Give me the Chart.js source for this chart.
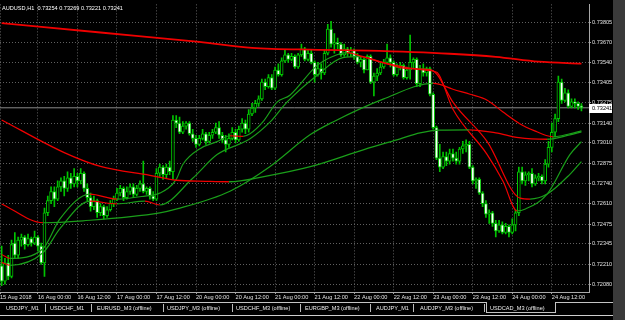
<!DOCTYPE html>
<html><head><meta charset="utf-8">
<script src="https://cdn.jsdelivr.net/npm/chart.js@4/dist/chart.umd.min.js"></script>
<style>
html,body{margin:0;padding:0;background:#000;width:625px;height:320px;overflow:hidden;}
#c{position:absolute;left:0;top:0;}
#strip{position:absolute;left:613px;top:0;width:12px;height:320px;background:#3a3a3a;}
</style></head>
<body>
<canvas id="c" width="613" height="320" style="width:613px;height:320px"></canvas>
<div id="strip"></div>
<script>
// ---------- data ----------
const SYMBOL_TITLE = "AUDUSD,H1  0.73254 0.73269 0.73221 0.73241";
const TAB_NAMES = ["USDJPY_M1","USDCHF_M1","EURUSD_M3 (offline)","USDJPY_M3 (offline)","USDCHF_M3 (offline)","EURGBP_M3 (offline)","AUDJPY_M1","AUDJPY_M3 (offline)","USDCAD_M3 (offline)"];
const Y_TICKS = [0.73805,0.73670,0.73540,0.73405,0.73275,0.73140,0.73010,0.72875,0.72740,0.72610,0.72475,0.72345,0.72210,0.72080];
const X_TICK_POS = [-0.5,11,23,35,47,59,71,83,95,107,119,131,143,155,167];
const X_TICK_LABELS = ["15 Aug 2018","16 Aug 00:00","16 Aug 12:00","17 Aug 00:00","17 Aug 12:00","20 Aug 00:00","20 Aug 12:00","21 Aug 00:00","21 Aug 12:00","22 Aug 00:00","22 Aug 12:00","23 Aug 00:00","23 Aug 12:00","24 Aug 00:00","24 Aug 12:00"];
const LAST_PRICE = 0.73241;

const OPEN = [0.7220,0.7210,0.7222,0.7213,0.7235,0.7227,0.7237,0.7239,0.7234,0.7238,
0.7235,0.7239,0.7233,0.7222,0.7255,0.7263,0.7269,0.7264,0.7272,0.7276,
0.7271,0.7278,0.7274,0.7279,0.7276,0.7281,0.7271,0.7265,0.7259,0.7263,
0.7255,0.7259,0.7253,0.7257,0.7261,0.7264,0.7268,0.7271,0.7265,0.7269,
0.7272,0.7267,0.7271,0.7274,0.7269,0.7271,0.7266,0.7264,0.7281,0.7285,
0.7280,0.7285,0.7282,0.7316,0.7314,0.7308,0.7312,0.7314,0.7307,0.7304,
0.7300,0.7304,0.7307,0.7302,0.7306,0.7308,0.7311,0.7306,0.7303,0.7300,
0.7304,0.7308,0.7303,0.7310,0.7314,0.7310,0.7320,0.7324,0.7327,0.7330,
0.7341,0.7338,0.7344,0.7337,0.7349,0.7346,0.7355,0.7359,0.7356,0.7358,
0.7351,0.7359,0.7363,0.7356,0.7360,0.7354,0.7346,0.7350,0.7347,0.7360,
0.7376,0.7366,0.7367,0.7366,0.7359,0.7363,0.7360,0.7362,0.7358,0.7354,
0.7356,0.7349,0.7358,0.7341,0.7345,0.7347,0.7351,0.7354,0.7357,0.7354,
0.7346,0.7351,0.7352,0.7344,0.7349,0.7354,0.7356,0.7340,0.7350,0.7347,
0.7350,0.7333,0.7311,0.7291,0.7285,0.7292,0.7289,0.7294,0.7291,0.7289,
0.7297,0.7299,0.7300,0.7285,0.7276,0.7277,0.7268,0.7261,0.7254,0.7255,
0.7248,0.7243,0.7247,0.7242,0.7246,0.7242,0.7247,0.7255,0.7282,0.7276,
0.7280,0.7281,0.7274,0.7278,0.7279,0.7276,0.7287,0.7298,0.7308,0.7317,
0.7341,0.7329,0.7334,0.7325,0.7328,0.7327,0.73254];
const HIGH = [0.7233,0.7225,0.7227,0.7237,0.7242,0.7239,0.7241,0.7240,0.7241,0.7239,
0.7243,0.7240,0.7235,0.7258,0.7266,0.7272,0.7272,0.7276,0.7278,0.7279,
0.7282,0.7281,0.7284,0.7281,0.7284,0.7282,0.7274,0.7268,0.7266,0.7264,
0.7261,0.7260,0.7259,0.7263,0.7266,0.7271,0.7273,0.7272,0.7272,0.7274,
0.7274,0.7273,0.7276,0.7289,0.7272,0.7272,0.7269,0.7284,0.7287,0.7286,
0.7287,0.7289,0.7319,0.7319,0.7318,0.7315,0.7315,0.7315,0.7310,0.7306,
0.7306,0.7310,0.7308,0.7308,0.7310,0.7314,0.7315,0.7308,0.7306,0.7307,
0.7311,0.7310,0.7312,0.7317,0.7316,0.7323,0.7327,0.7329,0.7332,0.7343,
0.7343,0.7346,0.7346,0.7351,0.7353,0.7357,0.7362,0.7360,0.7360,0.7359,
0.7360,0.7366,0.7364,0.7362,0.7362,0.7355,0.7354,0.7353,0.7362,0.7379,
0.7381,0.7373,0.7370,0.7367,0.7366,0.7364,0.7364,0.7363,0.7360,0.7358,
0.7357,0.7359,0.7359,0.7347,0.7350,0.7354,0.7356,0.7366,0.7359,0.7355,
0.7353,0.7354,0.7353,0.7351,0.7372,0.7357,0.7357,0.7352,0.7353,0.7351,
0.7351,0.7334,0.7312,0.7300,0.7295,0.7295,0.7297,0.7297,0.7295,0.7298,
0.7302,0.7303,0.7302,0.7286,0.7278,0.7278,0.7269,0.7263,0.7257,0.7256,
0.7250,0.7250,0.7249,0.7248,0.7247,0.7251,0.7257,0.7285,0.7285,0.7282,
0.7282,0.7284,0.7280,0.7281,0.7280,0.7290,0.7302,0.7314,0.7320,0.7345,
0.7343,0.7337,0.7336,0.7330,0.7330,0.7328,0.73269];
const LOW = [0.7207,0.7208,0.7211,0.7212,0.7225,0.7225,0.7233,0.7231,0.7233,0.7233,
0.7234,0.7230,0.7221,0.7213,0.7253,0.7261,0.7259,0.7263,0.7269,0.7266,
0.7269,0.7271,0.7272,0.7272,0.7274,0.7269,0.7263,0.7256,0.7257,0.7252,
0.7253,0.7251,0.7252,0.7256,0.7259,0.7263,0.7266,0.7263,0.7264,0.7267,
0.7265,0.7266,0.7269,0.7268,0.7267,0.7264,0.7263,0.7263,0.7279,0.7277,
0.7278,0.7280,0.7277,0.7311,0.7307,0.7307,0.7310,0.7306,0.7302,0.7298,
0.7299,0.7303,0.7300,0.7301,0.7304,0.7307,0.7304,0.7301,0.7295,0.7298,
0.7303,0.7301,0.7302,0.7308,0.7307,0.7308,0.7319,0.7321,0.7325,0.7329,
0.7336,0.7337,0.7336,0.7336,0.7345,0.7345,0.7354,0.7354,0.7355,0.7350,
0.7350,0.7358,0.7355,0.7355,0.7353,0.7341,0.7345,0.7343,0.7346,0.7359,
0.7364,0.7360,0.7363,0.7358,0.7358,0.7358,0.7358,0.7356,0.7353,0.7351,
0.7347,0.7349,0.7340,0.7332,0.7342,0.7346,0.7350,0.7353,0.7351,0.7345,
0.7345,0.7349,0.7343,0.7343,0.7343,0.7350,0.7338,0.7338,0.7345,0.7345,
0.7332,0.7310,0.7290,0.7282,0.7284,0.7286,0.7287,0.7289,0.7287,0.7287,
0.7294,0.7295,0.7284,0.7274,0.7271,0.7267,0.7259,0.7252,0.7248,0.7246,
0.7239,0.7242,0.7241,0.7241,0.7239,0.7241,0.7243,0.7253,0.7274,0.7273,
0.7276,0.7272,0.7273,0.7276,0.7274,0.7274,0.7285,0.7295,0.7305,0.7315,
0.7327,0.7328,0.7324,0.7324,0.7324,0.7323,0.73221];
const CLOSE = [0.7210,0.7222,0.7213,0.7234,0.7227,0.7237,0.7239,0.7234,0.7238,0.7235,
0.7239,0.7233,0.7222,0.7255,0.7263,0.7269,0.7264,0.7272,0.7276,0.7271,
0.7278,0.7274,0.7279,0.7276,0.7281,0.7271,0.7265,0.7259,0.7263,0.7255,
0.7259,0.7253,0.7257,0.7261,0.7264,0.7268,0.7271,0.7265,0.7269,0.7272,
0.7267,0.7271,0.7274,0.7269,0.7271,0.7266,0.7264,0.7281,0.7285,0.7280,
0.7285,0.7282,0.7316,0.7314,0.7308,0.7312,0.7314,0.7307,0.7304,0.7300,
0.7304,0.7307,0.7302,0.7306,0.7308,0.7311,0.7306,0.7303,0.7300,0.7304,
0.7308,0.7303,0.7310,0.7314,0.7310,0.7320,0.7324,0.7327,0.7330,0.7341,
0.7338,0.7344,0.7337,0.7349,0.7346,0.7355,0.7359,0.7356,0.7358,0.7351,
0.7359,0.7363,0.7356,0.7360,0.7354,0.7346,0.7350,0.7347,0.7360,0.7376,
0.7366,0.7367,0.7366,0.7359,0.7363,0.7360,0.7362,0.7358,0.7354,0.7356,
0.7349,0.7358,0.7341,0.7345,0.7347,0.7351,0.7354,0.7357,0.7354,0.7346,
0.7351,0.7352,0.7344,0.7349,0.7354,0.7356,0.7340,0.7350,0.7347,0.7350,
0.7333,0.7311,0.7291,0.7285,0.7292,0.7289,0.7294,0.7291,0.7289,0.7297,
0.7299,0.7300,0.7285,0.7276,0.7277,0.7268,0.7261,0.7254,0.7255,0.7248,
0.7243,0.7247,0.7242,0.7246,0.7242,0.7247,0.7255,0.7282,0.7276,0.7280,
0.7281,0.7274,0.7278,0.7279,0.7276,0.7287,0.7298,0.7308,0.7317,0.7341,
0.7329,0.7334,0.7325,0.7328,0.7327,0.7325,0.73241];

// moving averages, read at sampled bar positions
const MA_A_X = [0,30,60,76,96,111,136,150,163,176];
const MA_A_Y = [0.73799,0.73737,0.73675,0.73636,0.73623,0.73617,0.73597,0.73577,0.73545,0.73532];
const MA_B_X = [0,19,30,45,53,62,69,80,94,110,121,127,133,142,150,157,165.6,172.5,176];
const MA_B_Y = [0.73161,0.72946,0.72855,0.72796,0.72764,0.72757,0.72754,0.72790,0.72855,0.72966,0.73037,0.73076,0.73094,0.73096,0.73076,0.73044,0.73034,0.73063,0.73083];
const MA_C_X = [0,12.6,24.7,48,53.2,69.3,81.5,93.6,100.6,115.8,131,133,137,142.2,147.4,152.2,157.4,162.5,165.6,167.4,172.5,176];
const MA_C_Y = [0.72608,0.72484,0.72497,0.72549,0.72575,0.72692,0.72855,0.73063,0.73148,0.73298,0.73402,0.73395,0.73363,0.73330,0.73291,0.73213,0.73135,0.73083,0.73057,0.73050,0.73070,0.73089];
const MA_D_X = [0,2.5,12.6,17.7,26.8,35,43.5,48,53,55,60.2,65.4,69.3,73.3,75.4,79.3,83.6,87.5,95.7,101.8,104.8,108.8,115.8,123,130,132.2,137,147.4,152.2,156.5,159,165.6,172.5,176];
const MA_D_Y = [0.72275,0.72249,0.72315,0.72510,0.72673,0.72640,0.72660,0.72679,0.72770,0.72868,0.72972,0.73018,0.73057,0.73053,0.73070,0.73148,0.73278,0.73324,0.73519,0.73590,0.73604,0.73584,0.73538,0.73506,0.73486,0.73473,0.73232,0.72933,0.72757,0.72562,0.72575,0.72673,0.72933,0.73018];
const MA_E_X = [0,2.5,12.6,17.7,26.8,35,43.5,48,58,65.4,75.4,81.5,86.6,95.7,103.6,108.8,115.8,123,130,132.2,137,147.4,157.4,160.4,165.6,172.5,176];
const MA_E_Y = [0.72223,0.72204,0.72288,0.72445,0.72627,0.72608,0.72627,0.72601,0.72777,0.72933,0.73037,0.73148,0.73278,0.73454,0.73571,0.73578,0.73538,0.73499,0.73493,0.73460,0.73278,0.73018,0.72646,0.72640,0.72673,0.72803,0.72887];

// ---------- styles ----------
const CANDLE_GREEN = '#00c400';
const LINE_GREEN = '#1a9e1a';
const LINE_RED = '#f00000';
const FONT_FAMILY = '"Liberation Sans", Arial, sans-serif';
const FONT = {family: FONT_FAMILY, size: 5.6};

// ---------- build ----------
const idx = OPEN.map((_, i) => i);
const wicks = idx.map(i => ({x: i, y: [LOW[i], HIGH[i]]}));
const bodies = idx.map(i => ({x: i, y: [OPEN[i], CLOSE[i]]}));
const bodyFill = idx.map(i => CLOSE[i] >= OPEN[i] ? '#000000' : '#ffffff');
const pts = (xs, ys) => xs.map((x, i) => ({x, y: ys[i]}));
const seg = {borderColor: c => (c.p1.parsed.y >= c.p0.parsed.y ? LINE_GREEN : LINE_RED)};
function maDs(xs, ys, w) {
  return {type: 'line', data: pts(xs, ys), borderColor: LINE_GREEN, borderWidth: w, pointRadius: 0,
    cubicInterpolationMode: 'monotone', segment: seg, order: 0};
}
const X_MIN = -0.5, X_MAX = 178.3;
const TAB_LEFT = [6, 50, 97, 167, 236, 305, 376, 420, 490];
const SEP_LEFT = [45, 91, 163, 232, 300, 370, 413, 484];

const overlay = {
  id: 'overlay',
  afterDatasetsDraw(chart) {
    const ctx = chart.ctx, ys = chart.scales.y, area = chart.chartArea;
    const py = Math.round(ys.getPixelForValue(LAST_PRICE));
    ctx.save();
    ctx.fillStyle = '#ffffff';
    ctx.fillRect(area.right, py - 4, 23, 9);
    ctx.fillStyle = '#000000';
    ctx.font = '5.6px ' + FONT_FAMILY;
    ctx.textBaseline = 'middle';
    ctx.fillText(LAST_PRICE.toFixed(5), area.right + 3, py + 0.5);
    ctx.fillStyle = '#ffffff';
    ctx.fillText(SYMBOL_TITLE, 2, 8);
    ctx.restore();
  },
  afterDraw(chart) {
    const ctx = chart.ctx;
    ctx.save();
    ctx.fillStyle = '#000';
    ctx.fillRect(0, 301, 613, 19);
    ctx.fillStyle = '#c4c4c4';
    ctx.fillRect(0, 302, 486, 1);
    ctx.fillRect(556, 302, 57, 1);
    // active tab outline
    ctx.fillRect(486, 302, 1, 11);
    ctx.fillRect(555, 302, 1, 11);
    ctx.fillRect(486, 312, 70, 1);
    // bottom panel line
    ctx.fillStyle = '#cfcfcf';
    ctx.fillRect(0, 315, 613, 1);
    ctx.fillStyle = '#bcbcbc';
    SEP_LEFT.forEach(x => ctx.fillRect(x, 304, 1, 8));
    ctx.fillStyle = '#ececec';
    ctx.font = '5.6px ' + FONT_FAMILY;
    ctx.textBaseline = 'middle';
    TAB_NAMES.forEach((t, i) => ctx.fillText(t, TAB_LEFT[i], 308));
    ctx.restore();
  }
};

new Chart(document.getElementById('c'), {
  type: 'bar',
  data: {
    datasets: [
      maDs(MA_A_X, MA_A_Y, 1.8),
      maDs(MA_B_X, MA_B_Y, 1.3),
      maDs(MA_C_X, MA_C_Y, 1.2),
      maDs(MA_D_X, MA_D_Y, 1.2),
      maDs(MA_E_X, MA_E_Y, 1.2),
      {type: 'line', data: [{x: X_MIN, y: LAST_PRICE}, {x: X_MAX, y: LAST_PRICE}], borderColor: '#8a8a8a',
        borderWidth: 1, pointRadius: 0, order: 3},
      {type: 'bar', data: bodies, backgroundColor: bodyFill, borderColor: CANDLE_GREEN, borderWidth: 1,
        borderSkipped: false, barThickness: 3, grouped: false, order: 1},
      {type: 'bar', data: wicks, backgroundColor: CANDLE_GREEN, borderWidth: 0,
        barThickness: 1, grouped: false, order: 2}
    ]
  },
  options: {
    responsive: false, animation: false, devicePixelRatio: 1,
    layout: {padding: {top: 1, left: 0, right: 0, bottom: 18}},
    plugins: {legend: {display: false}, tooltip: {enabled: false}, title: {display: false}},
    scales: {
      x: {
        type: 'linear', min: X_MIN, max: X_MAX, offset: false,
        grid: {color: '#606060', offset: false, drawTicks: true, tickLength: 2, tickColor: '#a0a0a0'},
        border: {display: true, color: '#a8a8a8', width: 1, dash: [1, 2]},
        afterBuildTicks: s => { s.ticks = X_TICK_POS.map(v => ({value: v})); },
        afterFit: s => { s.height = 10; },
        ticks: {align: 'start', maxRotation: 0, minRotation: 0, autoSkip: false, padding: 0,
          color: '#e0e0e0', font: FONT, callback: (v, i) => X_TICK_LABELS[i]}
      },
      y: {
        type: 'linear', position: 'right', min: 0.720281, max: 0.739222,
        grid: {color: '#606060', drawTicks: true, tickLength: 2, tickColor: '#a0a0a0'},
        border: {display: true, color: '#a8a8a8', width: 1, dash: [1, 2]},
        afterBuildTicks: s => { s.ticks = Y_TICKS.map(v => ({value: v})); },
        afterFit: s => { s.width = 24; },
        ticks: {padding: 1, color: '#e0e0e0', font: FONT, callback: v => Number(v).toFixed(5)}
      }
    }
  },
  plugins: [overlay]
});
</script>
</body></html>
